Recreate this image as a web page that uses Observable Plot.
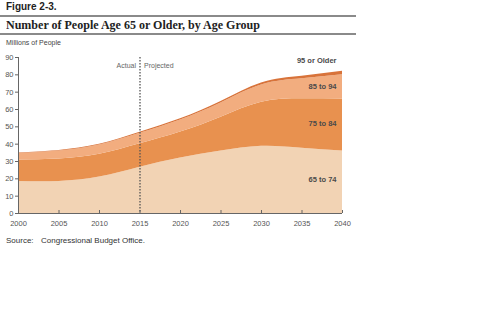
<!DOCTYPE html>
<html>
<head>
<meta charset="utf-8">
<script src="https://cdn.jsdelivr.net/npm/d3@7"></script>
<script src="https://cdn.jsdelivr.net/npm/@observablehq/plot@0.6"></script>
<style>
  body { margin: 0; background: #fff; width: 480px; height: 336px; position: relative; overflow: hidden; font-family: "Liberation Sans", Arial, sans-serif; }
  #fig { position: absolute; left: 6px; top: 1px; font-family: "Liberation Sans", Arial, sans-serif; font-weight: bold; font-size: 10px; color: #222; }
  .rule { position: absolute; left: 0; width: 356px; height: 2px; background: #8a8a8a; }
  #title { position: absolute; left: 6px; top: 17px; font-family: "Liberation Serif", "DejaVu Serif", serif; font-weight: bold; font-size: 13.5px; color: #222; white-space: nowrap; transform: scaleX(0.89); transform-origin: left top; }
  #units { position: absolute; left: 6px; top: 39px; font-size: 7px; color: #444; }
  #chart { position: absolute; left: 0; top: 50px; }
  #source { position: absolute; left: 6px; top: 236px; font-size: 8px; color: #333; }
  #source span { display: inline-block; width: 35px; }
</style>
</head>
<body>
<div id="fig">Figure 2-3.</div>
<div class="rule" style="top:15px"></div>
<div id="title">Number of People Age 65 or Older, by Age Group</div>
<div class="rule" style="top:33px"></div>
<div id="units">Millions of People</div>
<div id="chart"></div>
<div id="source"><span>Source:</span>Congressional Budget Office.</div>
<script>
const years = [2000, 2005, 2010, 2015, 2020, 2025, 2030, 2035, 2040];
const groups = ["65 to 74", "75 to 84", "85 to 94", "95 or Older"];
const age65to74 = [18.5, 18.5, 21.0, 26.7, 32.0, 36.0, 38.8, 37.7, 36.0];
const age75to84 = [12.4, 13.0, 13.2, 13.5, 15.0, 19.6, 25.4, 28.5, 30.0];
const age85to94 = [3.7, 4.5, 5.3, 6.1, 7.0, 8.2, 10.0, 11.5, 14.0];
const age95plus = [0.35, 0.4, 0.45, 0.55, 0.65, 0.8, 1.1, 1.5, 2.0];
const xTicks = [2000, 2005, 2010, 2015, 2020, 2025, 2030, 2035, 2040];
const yTicks = [0, 10, 20, 30, 40, 50, 60, 70, 80, 90];
const actualEnd = 2015;
const colors = ["#f2d3b4", "#e8914f", "#f2ad7f", "#d8733a"];

const series = [age65to74, age75to84, age85to94, age95plus];
const rows = [];
groups.forEach((g, gi) => years.forEach((y, i) => rows.push({year: y, group: g, value: series[gi][i]})));

// label anchors at the last year: mid of each band
const last = years.length - 1;
let cum = 0;
const labelRows = groups.map((g, gi) => {
  const lo = cum; cum += series[gi][last];
  return {group: g, year: years[last], mid: (lo + cum) / 2};
});
const labelDy = [-3, -2, 0, -13];

const font = "'Liberation Sans Narrow', 'Liberation Sans', Arial, sans-serif";
const plot = Plot.plot({
  width: 360,
  height: 185,
  marginTop: 7,
  marginBottom: 22,
  marginLeft: 18,
  marginRight: 18,
  style: {fontFamily: font, fontSize: "7.5px", color: "#555", background: "transparent"},
  x: {domain: [2000, 2040], ticks: xTicks, tickFormat: d => String(d), label: null},
  y: {domain: [0, 90], ticks: yTicks, label: null},
  color: {domain: groups, range: colors},
  marks: [
    Plot.areaY(rows, {x: "year", y: "value", fill: "group", curve: "natural", order: groups}),
    Plot.ruleX([actualEnd], {stroke: "#555", strokeWidth: 1.3, strokeDasharray: "1.5,1.5"}),
    Plot.text(["Actual"], {x: actualEnd, frameAnchor: "top", dy: 6, dx: -4, textAnchor: "end", fill: "#666", fontSize: 7}),
    Plot.text(["Projected"], {x: actualEnd, frameAnchor: "top", dy: 6, dx: 4, textAnchor: "start", fill: "#666", fontSize: 7}),
    ...labelRows.map((r, i) => Plot.text([r], {x: "year", y: "mid", text: "group", dx: -6, dy: labelDy[i], textAnchor: "end",
      fill: "#4a4a4a", fontWeight: "bold", fontSize: 7.5, fontFamily: "'Liberation Sans', Arial, sans-serif"})),
    Plot.ruleY([0], {stroke: "#666"}),
    Plot.ruleX([2000], {stroke: "#666"}),
    Plot.axisX({ticks: xTicks, tickFormat: d => String(d), tickSize: -3, tickPadding: 10, stroke: "#666", label: null}),
    Plot.axisY({ticks: yTicks, tickSize: 3, tickPadding: 2, stroke: "#666", label: null})
  ]
});
document.getElementById("chart").appendChild(plot);
</script>
</body>
</html>
